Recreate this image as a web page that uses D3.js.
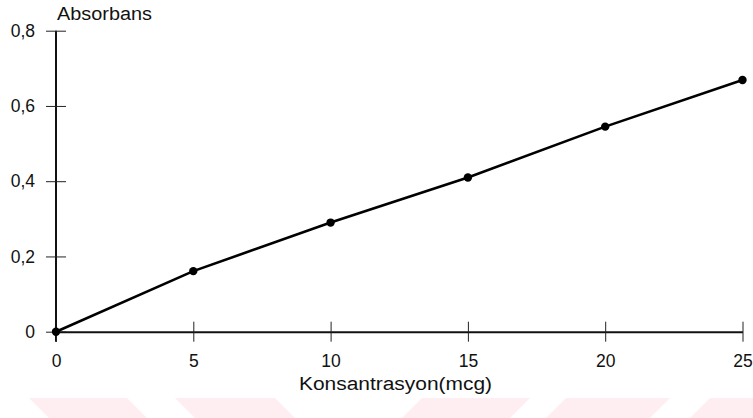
<!DOCTYPE html>
<html>
<head>
<meta charset="utf-8">
<script src="https://cdn.jsdelivr.net/npm/d3@7"></script>
<style>
  body { margin: 0; background: #fff; }
  svg { display: block; font-family: "Liberation Sans", Arial, sans-serif; }
</style>
</head>
<body>
<div id="chart"></div>
<script>
// values
const concentrations = [0, 5, 10, 15, 20, 25];
const absorbance = [0, 0.161, 0.29, 0.41, 0.545, 0.669];
const xTicks = [0, 5, 10, 15, 20, 25];
const yTicks = [0, 0.2, 0.4, 0.6, 0.8];
const yTitle = "Absorbans";
const xTitle = "Konsantrasyon(mcg)";

const width = 753, height = 418;
const margin = { top: 30.7, right: 10.5, bottom: 86.3, left: 56 };

const svg = d3.select("#chart").append("svg")
    .attr("width", width)
    .attr("height", height);

// pale watermark band along the bottom edge
const band = [
    { x: 29, w: 98, s: 1 }, { x: 175, w: 100, s: 1 },
    { x: 422, w: 108, s: -1 }, { x: 566, w: 104, s: -1 }, { x: 710, w: 100, s: -1 }
];
svg.append("g").selectAll("path")
    .data(band)
    .join("path")
    .attr("fill", "#feeef1")
    .attr("d", d => {
        const y0 = 398, y1 = 418, off = 20 * d.s;
        return "M" + d.x + "," + y0 + "L" + (d.x + d.w) + "," + y0 +
            "L" + (d.x + d.w + off) + "," + y1 + "L" + (d.x + off) + "," + y1 + "Z";
    });

const x = d3.scaleLinear().domain([0, 25]).range([margin.left, width - margin.right]);
const y = d3.scaleLinear().domain([0, 0.8]).range([height - margin.bottom, margin.top]);

const commaFmt = v => (v === 0 ? "0" : d3.format(".1f")(v).replace(".", ","));

// y axis
const gy = svg.append("g")
    .attr("transform", "translate(" + x(0) + ",0)")
    .call(d3.axisLeft(y).tickValues(yTicks).tickFormat(commaFmt)
        .tickSizeInner(10).tickSizeOuter(0).tickPadding(11));
gy.attr("font-size", null).attr("font-family", null);
gy.select(".domain").attr("stroke", "#111").attr("stroke-width", 2)
    .attr("d", "M0," + y(0.8) + "V" + (y(0) + 10));
gy.selectAll(".tick line").attr("x1", -10).attr("x2", 10).attr("stroke", "#222");
gy.selectAll(".tick text").style("font-size", "17.5px").attr("fill", "#111");

// x axis
const gx = svg.append("g")
    .attr("transform", "translate(0," + y(0) + ")")
    .call(d3.axisBottom(x).tickValues(xTicks).tickFormat(d3.format("d"))
        .tickSizeInner(10).tickSizeOuter(0).tickPadding(13));
gx.attr("font-size", null).attr("font-family", null);
gx.select(".domain").attr("stroke", "#111").attr("stroke-width", 2);
gx.selectAll(".tick line").attr("y1", -10).attr("y2", 10).attr("stroke", "#222");
gx.selectAll(".tick").filter(d => d === 0).select("line").attr("y1", 0);
gx.selectAll(".tick text").style("font-size", "17.5px").attr("fill", "#111");

// titles
svg.append("text")
    .attr("x", 57).attr("y", 20)
    .style("font-size", "18px")
    .attr("textLength", 95).attr("lengthAdjust", "spacingAndGlyphs")
    .attr("fill", "#111")
    .text(yTitle);

svg.append("text")
    .attr("x", 299).attr("y", 390)
    .style("font-size", "18px")
    .attr("textLength", 193).attr("lengthAdjust", "spacingAndGlyphs")
    .attr("fill", "#111")
    .text(xTitle);

// curve
const pts = concentrations.map((c, i) => ({ c: c, a: absorbance[i] }));

svg.append("path")
    .datum(pts)
    .attr("fill", "none")
    .attr("stroke", "#000")
    .attr("stroke-width", 2.6)
    .attr("d", d3.line().x(d => x(d.c)).y(d => y(d.a)));

svg.append("g").selectAll("circle")
    .data(pts)
    .join("circle")
    .attr("cx", d => x(d.c))
    .attr("cy", d => y(d.a))
    .attr("r", 4.2)
    .attr("fill", "#000");
</script>
</body>
</html>
